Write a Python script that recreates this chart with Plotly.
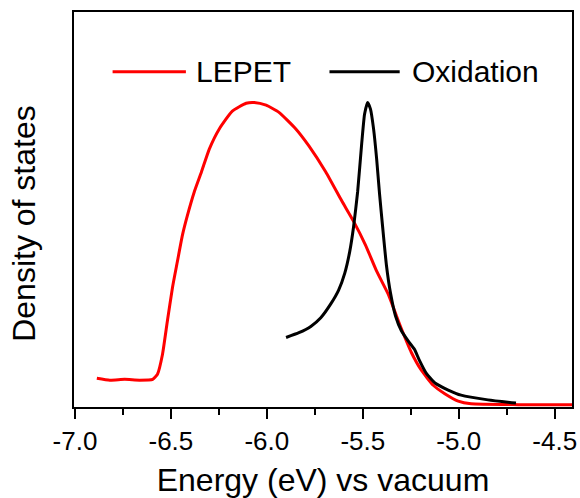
import plotly.graph_objects as go

# LEPET density of states (energy in eV vs vacuum, arbitrary units)
lepet_energy = [-6.886, -6.818, -6.741, -6.663, -6.595, -6.570, -6.544, -6.518, -6.492, -6.466,
                -6.440, -6.414, -6.378, -6.341, -6.300, -6.248, -6.180, -6.108, -6.066, -6.004,
                -5.937, -5.849, -5.781, -5.693, -5.610, -5.548, -5.486, -5.428, -5.366, -5.325,
                -5.299, -5.247, -5.195, -5.133, -5.071, -5.003, -4.936, -4.69, -4.40]
lepet_dos = [0.073, 0.068, 0.070, 0.068, 0.070, 0.083, 0.133, 0.219, 0.302, 0.369,
             0.435, 0.485, 0.545, 0.595, 0.653, 0.704, 0.749, 0.769, 0.771, 0.764,
             0.746, 0.704, 0.661, 0.595, 0.522, 0.470, 0.410, 0.344, 0.284, 0.231,
             0.198, 0.138, 0.093, 0.055, 0.033, 0.015, 0.008, 0.006, 0.006]

# Oxidation density of states
ox_energy = [-5.900, -5.833, -5.771, -5.719, -5.667, -5.626, -5.594, -5.568, -5.548, -5.527,
             -5.506, -5.491, -5.475, -5.460, -5.444, -5.428, -5.413, -5.397, -5.377, -5.356,
             -5.330, -5.299, -5.262, -5.231, -5.205, -5.169, -5.122, -5.055, -4.988, -4.848,
             -4.702]
ox_dos = [0.176, 0.188, 0.204, 0.226, 0.261, 0.296, 0.339, 0.394, 0.457, 0.545,
          0.666, 0.741, 0.771, 0.754, 0.704, 0.628, 0.540, 0.457, 0.359, 0.289,
          0.231, 0.193, 0.166, 0.146, 0.118, 0.085, 0.060, 0.043, 0.030, 0.018,
          0.010]

series_names = ["LEPET", "Oxidation"]
series_colors = ["#ff0000", "#000000"]

tick_vals = [-7.0, -6.5, -6.0, -5.5, -5.0, -4.5]
tick_text = ["-7.0", "-6.5", "-6.0", "-5.5", "-5.0", "-4.5"]

x_title = "Energy (eV) vs vacuum"
y_title = "Density of states"

FONT = "Liberation Sans, Arial, sans-serif"

fig = go.Figure()
fig.add_trace(go.Scatter(x=lepet_energy, y=lepet_dos, mode="lines", name=series_names[0],
                         line=dict(color=series_colors[0], width=3, shape="spline", smoothing=0.5)))
fig.add_trace(go.Scatter(x=ox_energy, y=ox_dos, mode="lines", name=series_names[1],
                         line=dict(color=series_colors[1], width=3, shape="spline", smoothing=0.5)))

# Manual legend (long line samples as in the original)
legend_items = [
    (0.0775, 0.2247, 0.2406),
    (0.513, 0.654, 0.674),
]
for (x0, x1, xt), name, col in zip(legend_items, series_names, series_colors):
    fig.add_shape(type="line", xref="paper", yref="paper", x0=x0, x1=x1, y0=0.849, y1=0.849,
                  line=dict(color=col, width=3))
    fig.add_annotation(xref="paper", yref="paper", x=xt, y=0.849, text=name, showarrow=False,
                       xanchor="left", yanchor="middle", font=dict(family=FONT, size=30, color="black"))

# y-axis title (placed slightly below centre, as in the original)
fig.add_annotation(xref="paper", yref="paper", x=-0.0994, y=0.465, text=y_title, showarrow=False,
                   textangle=-90, xanchor="center", yanchor="middle",
                   font=dict(family=FONT, size=32, color="black"))

fig.update_layout(
    width=580, height=498,
    margin=dict(l=74, r=3, t=12, b=88),
    paper_bgcolor="white", plot_bgcolor="white",
    showlegend=False,
    font=dict(family=FONT, color="black"),
    xaxis=dict(
        range=[-7.005, -4.41], showgrid=False, zeroline=False,
        showline=True, mirror=True, linecolor="black", linewidth=2,
        ticks="outside", ticklen=10, tickwidth=2, tickcolor="black",
        tickvals=tick_vals, ticktext=tick_text, tickfont=dict(size=26, family=FONT),
        ticklabeloverflow="allow",
        minor=dict(ticks="outside", ticklen=6, tickwidth=2, tickcolor="black", dtick=0.25, tick0=-7.0),
        title=dict(text=x_title, font=dict(size=32, family=FONT), standoff=16),
    ),
    yaxis=dict(
        range=[0, 1], showgrid=False, zeroline=False,
        showline=True, mirror=True, linecolor="black", linewidth=2,
        ticks="", showticklabels=False,
    ),
)

fig.write_html("out.html")
